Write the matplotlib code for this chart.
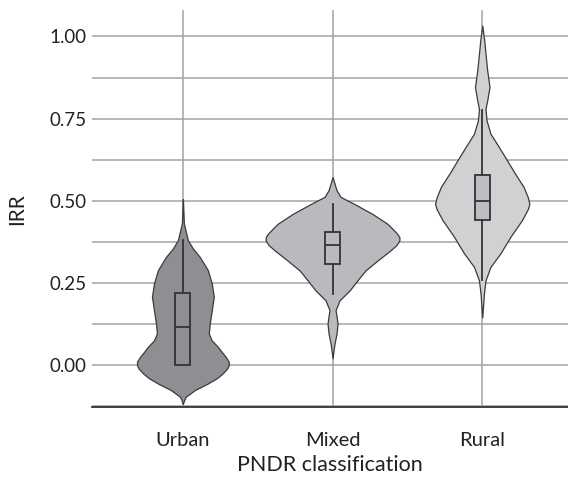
import matplotlib.pyplot as plt
import numpy as np

plt.rcParams['font.family'] = ['Lato', 'DejaVu Sans']

# Categories and colours
categories = ['Urban', 'Mixed', 'Rural']
violin_colors = ['#8e8f92', '#b9babd', '#d0d1d3']
box_colors = ['#8e8f92', '#b9babd', '#bdbec1']

# Violin outlines: IRR level and relative density
urban_y = [-0.118, -0.105, -0.096, -0.076, -0.056, -0.040, -0.025, -0.010, 0.000, 0.010,
           0.025, 0.040, 0.056, 0.075, 0.096, 0.127, 0.167, 0.208, 0.248, 0.289, 0.329,
           0.355, 0.380, 0.431, 0.470, 0.505]
urban_d = [0, 1.5, 3, 12, 25, 34, 40, 44.5, 46, 46, 43, 39, 35, 29, 26, 27, 29, 31, 29,
           25, 17, 10, 5, 1, 0.5, 0]

mixed_y = [0.021, 0.045, 0.066, 0.096, 0.126, 0.150, 0.167, 0.197, 0.227, 0.258, 0.288,
           0.318, 0.349, 0.365, 0.379, 0.389, 0.399, 0.415, 0.430, 0.460, 0.490, 0.512,
           0.532, 0.572]
mixed_d = [0, 1, 2, 4, 5, 4, 3, 7, 17, 25, 33, 45, 58, 64, 67, 67, 65, 60, 55, 40, 22,
           8, 4, 0]

rural_y = [0.145, 0.218, 0.258, 0.299, 0.340, 0.390, 0.441, 0.475, 0.491, 0.510, 0.542,
           0.583, 0.623, 0.664, 0.704, 0.745, 0.780, 0.805, 0.846, 0.897, 0.947, 0.988,
           1.033]
rural_d = [0, 1.7, 3.3, 8.3, 18.3, 28.3, 40, 46, 47.5, 46, 41.7, 33, 25, 16.7, 8.3, 4.3,
           3.3, 5, 7.3, 5, 3.3, 2, 0]

# Box summaries: low whisker, Q1, median, Q3, high whisker
whis_lo = [0.000, 0.215, 0.258]
q1 = [0.000, 0.309, 0.441]
medians = [0.117, 0.365, 0.498]
q3 = [0.220, 0.405, 0.578]
whis_hi = [0.380, 0.491, 0.777]

profiles = [(urban_y, urban_d), (mixed_y, mixed_d), (rural_y, rural_d)]
positions = np.arange(len(categories))

fig = plt.figure(figsize=(5.68, 4.83), dpi=100)
ax = fig.add_axes([0.162, 0.157, 0.838, 0.822])

# grid first so it stays behind
ax.set_axisbelow(True)

vpstats = []
for (ys, ds), m in zip(profiles, medians):
    vpstats.append({'coords': np.array(ys), 'vals': np.array(ds, dtype=float),
                    'mean': m, 'median': m, 'min': ys[0], 'max': ys[-1]})

parts = ax.violin(vpstats, positions=positions, widths=[0.613, 0.893, 0.63],
                  showmeans=False, showextrema=False, showmedians=False)
for body, c in zip(parts['bodies'], violin_colors):
    body.set_facecolor(c)
    body.set_edgecolor('#3a3a3a')
    body.set_linewidth(0.9)
    body.set_alpha(1)
    body.set_zorder(2)

box_stats = []
for i in range(len(categories)):
    box_stats.append({'whislo': whis_lo[i], 'q1': q1[i], 'med': medians[i],
                      'q3': q3[i], 'whishi': whis_hi[i], 'fliers': []})

bp = ax.bxp(box_stats, positions=positions, widths=0.1, showcaps=False,
            showfliers=False, patch_artist=True, manage_ticks=False,
            boxprops=dict(edgecolor='#333333', linewidth=1.3),
            whiskerprops=dict(color='#333333', linewidth=1.3),
            medianprops=dict(color='#333333', linewidth=1.3),
            zorder=3)
for patch, c in zip(bp['boxes'], box_colors):
    patch.set_facecolor(c)

ax.set_xticks(positions)
ax.set_xticklabels(categories)
ax.set_yticks([0, 0.25, 0.5, 0.75, 1.0])
ax.set_yticklabels(['0.00', '0.25', '0.50', '0.75', '1.00'])
ax.set_yticks([-0.125, 0.125, 0.375, 0.625, 0.875], minor=True)
ax.grid(True, which='both', color='#a3a3a3', linewidth=1.1)

ax.set_xlim(-0.607, 2.573)
ax.set_ylim(-0.128, 1.08)

for side in ['left', 'right', 'top']:
    ax.spines[side].set_visible(False)
ax.spines['bottom'].set_color('#222222')
ax.spines['bottom'].set_linewidth(1.2)

ax.tick_params(axis='both', which='both', length=0, labelsize=13.5, colors='#222222')
ax.tick_params(axis='x', labelsize=14.5, pad=18)
ax.tick_params(axis='y', pad=4)

ax.set_xlabel('PNDR classification', fontsize=15.5, color='#222222', labelpad=4)
ax.set_ylabel('IRR', fontsize=15, color='#222222', labelpad=16)

fig.savefig('out.png', dpi=100)
